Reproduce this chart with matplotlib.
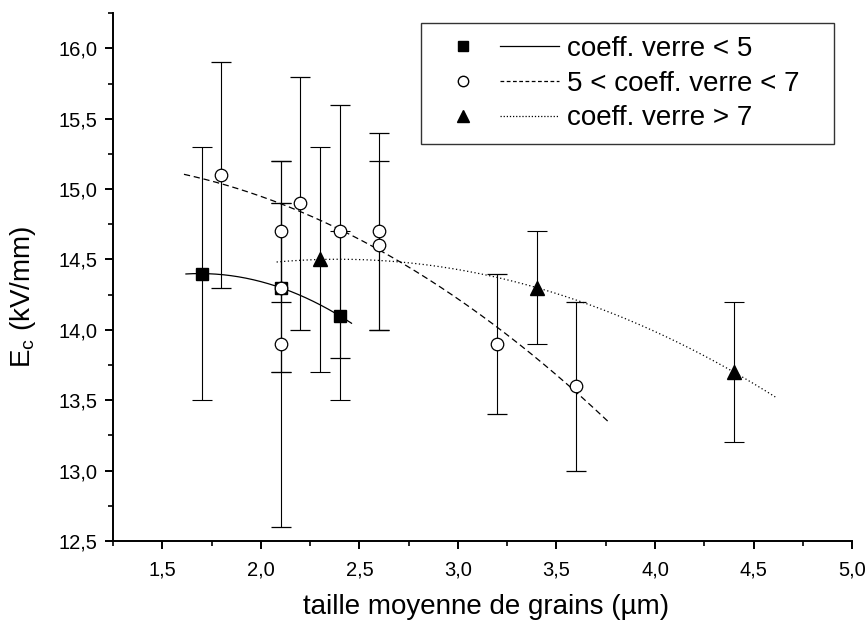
import numpy as np
import matplotlib
matplotlib.use("Agg")
import matplotlib.pyplot as plt
from matplotlib.ticker import MultipleLocator, FuncFormatter
from matplotlib.legend_handler import HandlerTuple
from matplotlib.lines import Line2D

plt.rcParams["font.family"] = ["Liberation Sans", "DejaVu Sans"]

# coeff. verre < 5 (squares)
sq_x = [1.7, 2.1, 2.4]
sq_y = [14.4, 14.3, 14.1]
sq_err = [0.9, 0.6, 0.6]

# 5 < coeff. verre < 7 (open circles)
ci_x = [1.8, 2.1, 2.1, 2.1, 2.2, 2.4, 2.6, 2.6, 3.2, 3.6]
ci_y = [15.1, 14.7, 14.3, 13.9, 14.9, 14.7, 14.7, 14.6, 13.9, 13.6]
ci_err = [0.8, 0.5, 0.6, 1.3, 0.9, 0.9, 0.7, 0.6, 0.5, 0.6]
# points used for the dashed fit
ci_in_fit = [True, True, False, False, True, True, True, True, True, True]

# coeff. verre > 7 (triangles)
tr_x = [2.3, 3.4, 4.4]
tr_y = [14.5, 14.3, 13.7]
tr_err = [0.8, 0.4, 0.5]

# x range of each fitted curve
sq_fit_range = (1.62, 2.46)
ci_fit_range = (1.61, 3.77)
tr_fit_range = (2.08, 4.61)

fig = plt.figure(figsize=(8.66, 6.21), dpi=100)
ax = fig.add_axes([0.1305, 0.1288, 0.8535, 0.850])

ebkw = dict(ecolor="black", elinewidth=0.8, capsize=7, capthick=0.8, ls="none", zorder=2)

ax.errorbar(sq_x, sq_y, yerr=sq_err, fmt="s", mfc="black", mec="black", ms=8, **ebkw)
ax.errorbar(ci_x, ci_y, yerr=ci_err, fmt="o", mfc="white", mec="black", ms=9, mew=0.9, **ebkw)
ax.errorbar(tr_x, tr_y, yerr=tr_err, fmt="^", mfc="black", mec="black", ms=10, **ebkw)


def fit_curve(x, y, rng):
    c = np.polyfit(x, y, 2)
    xs = np.linspace(rng[0], rng[1], 200)
    return xs, np.polyval(c, xs)


xs, ys = fit_curve(sq_x, sq_y, sq_fit_range)
ax.plot(xs, ys, color="black", lw=0.9, ls="-", zorder=1)

fx = [x for x, k in zip(ci_x, ci_in_fit) if k]
fy = [y for y, k in zip(ci_y, ci_in_fit) if k]
xs, ys = fit_curve(fx, fy, ci_fit_range)
ax.plot(xs, ys, color="black", lw=0.9, ls=(0, (5, 3)), zorder=1)

xs, ys = fit_curve(tr_x, tr_y, tr_fit_range)
ax.plot(xs, ys, color="black", lw=0.9, ls=(0, (1, 2)), zorder=1)

ax.set_xlim(1.25, 5.0)
ax.set_ylim(12.5, 16.25)

ax.spines["top"].set_visible(False)
ax.spines["right"].set_visible(False)
ax.spines["left"].set_linewidth(1.4)
ax.spines["bottom"].set_linewidth(1.4)

ax.xaxis.set_major_locator(MultipleLocator(0.5))
ax.xaxis.set_minor_locator(MultipleLocator(0.25))
ax.yaxis.set_major_locator(MultipleLocator(0.5))
ax.yaxis.set_minor_locator(MultipleLocator(0.25))
comma = FuncFormatter(lambda v, p: f"{v:.1f}".replace(".", ","))
ax.xaxis.set_major_formatter(comma)
ax.yaxis.set_major_formatter(comma)
ax.set_xticks([1.5, 2.0, 2.5, 3.0, 3.5, 4.0, 4.5, 5.0])
ax.tick_params(which="major", direction="out", length=6, width=1.4, labelsize=14.5, pad=5)
ax.tick_params(axis="x", which="major", pad=8)
ax.tick_params(which="minor", direction="out", length=3.5, width=1.2)

ax.set_xlabel("taille moyenne de grains (µm)", fontsize=20)
ax.set_ylabel(r"E$_\mathregular{c}$ (kV/mm)", fontsize=20)
ax.xaxis.set_label_coords(0.505, -0.101)
ax.yaxis.set_label_coords(-0.102, 0.462)

h1 = (Line2D([], [], marker="s", color="black", ls="none", ms=7),
      Line2D([], [], color="black", lw=0.9, ls="-"))
h2 = (Line2D([], [], marker="o", mfc="white", mec="black", ls="none", ms=7.5),
      Line2D([], [], color="black", lw=0.9, ls=(0, (3, 2))))
h3 = (Line2D([], [], marker="^", color="black", ls="none", ms=8),
      Line2D([], [], color="black", lw=0.9, ls=(0, (1, 1.5))))
leg = ax.legend([h1, h2, h3],
                ["coeff. verre < 5", "5 < coeff. verre < 7", "coeff. verre > 7"],
                handler_map={tuple: HandlerTuple(ndivide=2, pad=0.27)},
                loc="upper left", bbox_to_anchor=(0.4168, 0.5, 0.5589, 0.481),
                mode="expand",
                fontsize=20, handlelength=4.5, handletextpad=0.3,
                labelspacing=0.32, borderpad=0.45, borderaxespad=0,
                frameon=True, fancybox=False, edgecolor="black")
leg.get_frame().set_linewidth(1.0)

fig.savefig("out.png", dpi=100)
